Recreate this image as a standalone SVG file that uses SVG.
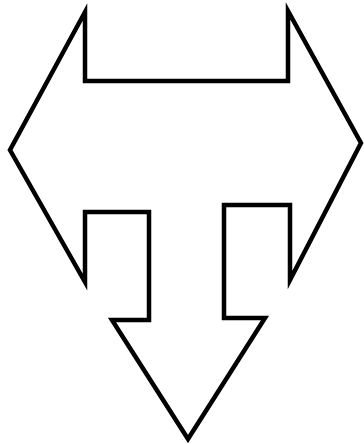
<svg xmlns="http://www.w3.org/2000/svg" width="364" height="444" viewBox="0 0 364 444">
<style>.s{fill:#fff;stroke:#000;stroke-width:4.5;stroke-linejoin:miter;stroke-miterlimit:10}</style>
<rect width="364" height="444" fill="#fff"/>
<g id="shape">
<polygon class="s" points="85,12 85,81 288,81 288,11 361,143 290,280 290,205 224,205 224,318 265,318 188,439 112,320 149,320 149,212 85,212 85,282 10,150"/>
</g>
</svg>
